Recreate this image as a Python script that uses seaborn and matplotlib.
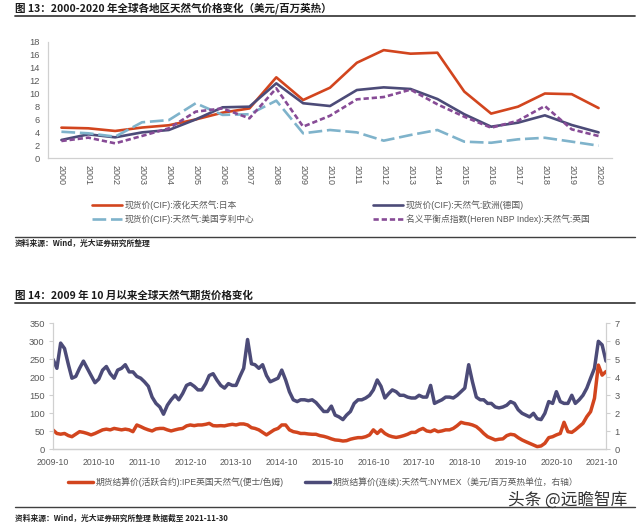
import pandas as pd
import matplotlib.pyplot as plt
import matplotlib.dates as mdates
from matplotlib.lines import Line2D
import seaborn as sns

# ---- 图13: 年度价格 (美元/百万英热) ----
years = list(range(2000, 2021))
japan_lng = [4.73, 4.63, 4.22, 4.75, 5.1, 6.0, 7.05, 7.7, 12.5, 9.0, 10.9,
             14.75, 16.7, 16.15, 16.3, 10.3, 6.9, 7.97, 10.0, 9.9, 7.76]
germany = [2.83, 3.7, 3.24, 4.0, 4.37, 6.0, 7.87, 7.97, 11.57, 8.5, 8.07,
           10.54, 10.95, 10.7, 9.15, 6.8, 4.88, 5.5, 6.63, 5.14, 4.0]
henry_hub = [4.1, 3.86, 3.34, 5.56, 5.9, 8.5, 6.7, 6.8, 8.9, 3.86, 4.37,
             4.0, 2.72, 3.6, 4.37, 2.57, 2.4, 2.93, 3.17, 2.57, 1.95]
uk_nbp = [2.67, 3.19, 2.31, 3.45, 4.63, 7.2, 7.7, 6.17, 10.8, 4.89, 6.57,
          9.1, 9.46, 10.6, 8.33, 6.42, 4.72, 5.8, 8.07, 4.47, 3.44]

top_labels = ['现货价(CIF):液化天然气:日本', '现货价(CIF):天然气:欧洲(德国)',
              '现货价(CIF):天然气:美国亨利中心', '名义平衡点指数(Heren NBP Index):天然气:英国']

# ---- 图14: 月度期货价格 2009-10 ~ 2021-11 ----
months = pd.date_range('2009-10-01', periods=146, freq='MS')
ipe = [53.7, 44, 42, 44, 38, 35, 42, 49, 47, 44,
       40, 44, 49, 54, 56, 54, 58, 56, 54, 56,
       54, 49, 67.6, 63, 58, 54, 51, 56.5, 58, 58,
       54, 51, 54, 56.5, 58, 65, 67.6, 65.7, 67.6, 67.6,
       69.4, 72, 65.7, 65, 65.7, 65, 67.6, 69.4, 67.6, 70.4,
       70.4, 67.6, 60, 58, 54, 47, 40, 47, 54, 58,
       67.6, 67.6, 54, 49, 47, 44, 44, 42.6, 41.7, 41.7,
       38, 36, 33, 29, 26, 25, 23, 24, 28, 30.5,
       32.4, 32.4, 35, 40, 54, 44, 54, 44, 38, 35,
       33, 35, 38, 41.7, 47, 47, 53.7, 58, 51, 49,
       54, 49, 51, 54, 54, 58, 65.7, 75, 72, 70.4,
       67.6, 63, 54, 44, 35, 30.5, 26, 28, 29, 38,
       41.7, 40, 32.4, 26, 21, 16.7, 12, 7.4, 9.3, 16.7,
       32.4, 35, 40, 44, 75, 49, 47, 54, 63, 72,
       90.7, 104.6, 141.7, 234, 206, 216]
nymex = [5.0, 4.5, 5.9, 5.6, 4.7, 3.95, 4.05, 4.5, 4.9, 4.5,
         4.1, 3.7, 3.9, 4.4, 4.6, 4.2, 3.95, 4.4, 4.5, 4.7,
         4.3, 4.3, 4.05, 3.95, 3.75, 3.5, 2.9, 2.55, 2.35, 1.95,
         2.45, 2.75, 3.0, 2.75, 3.1, 3.55, 3.65, 3.5, 3.3, 3.3,
         3.65, 4.1, 4.2, 3.85, 3.55, 3.4, 3.65, 3.55, 3.55, 4.05,
         4.5, 6.1, 4.75, 4.7, 4.5, 4.7, 4.1, 3.75, 3.85, 3.95,
         4.4, 3.85, 3.2, 2.75, 2.65, 2.75, 2.75, 2.7, 2.75, 2.6,
         2.35, 2.1, 2.1, 2.4, 1.9, 1.8, 1.65, 1.9, 2.1, 2.55,
         2.75, 2.75, 2.85, 3.0, 3.3, 3.85, 3.5, 2.85, 3.1, 3.3,
         3.2, 3.0, 3.0, 2.9, 2.85, 2.85, 3.0, 2.9, 2.9, 3.55,
         2.55, 2.65, 2.75, 2.9, 2.9, 2.85, 3.0, 3.2, 3.4, 4.7,
         3.75, 2.9, 2.75, 2.75, 2.55, 2.55, 2.35, 2.3, 2.35, 2.45,
         2.65, 2.55, 2.2, 2.0, 1.9, 1.8, 2.0, 1.7, 1.65, 2.0,
         2.65, 2.55, 3.2, 2.65, 2.55, 2.55, 3.0, 2.55, 2.75, 3.0,
         3.4, 3.95, 4.5, 6.0, 5.8, 4.9]

bottom_labels = ['期货结算价(活跃合约):IPE英国天然气(便士/色姆)',
                 '期货结算价(连续):天然气:NYMEX（美元/百万英热单位，右轴）']

sns.set_style('white')
plt.rcParams['font.family'] = ['Liberation Sans', 'Noto Sans CJK SC', 'DejaVu Sans']

RED = '#D2451E'
NAVY = '#4C4B78'
BLUE = '#7FB3CB'
PURPLE = '#874B96'
TICK = '#595959'
AXIS = '#D0D0D0'
CJK = ['Noto Sans CJK SC', 'DejaVu Sans']

W, H = 640, 523
fig = plt.figure(figsize=(6.4, 5.23), dpi=100)


def fx(px):
    return px / W


def fy(py):
    return 1 - py / H


# titles, rules, sources
fig.text(fx(15), fy(8), '图 13：2000-2020 年全球各地区天然气价格变化（美元/百万英热）',
         fontsize=7.6, fontweight='bold', family=CJK, va='center', color='#1a1a1a')
fig.text(fx(15), fy(295), '图 14：2009 年 10 月以来全球天然气期货价格变化',
         fontsize=7.6, fontweight='bold', family=CJK, va='center', color='#1a1a1a')
for y, lw in [(16, 1.3), (303.3, 1.3), (236.7, 1.0), (507, 1.0)]:
    fig.add_artist(Line2D([fx(15), fx(635)], [fy(y), fy(y)], color='#404040', lw=lw))
fig.text(fx(15), fy(243), '资料来源：Wind，光大证券研究所整理',
         fontsize=5.6, fontweight='bold', family=CJK, va='center', color='#222222')
fig.text(fx(15), fy(518), '资料来源：Wind，光大证券研究所整理 数据截至 2021-11-30',
         fontsize=5.6, fontweight='bold', family=CJK, va='center', color='#222222')
fig.text(fx(508), fy(500), '头条 @远瞻智库', fontsize=12, family=CJK,
         va='center', color='#333333')

# ---- top chart ----
ax = fig.add_axes([fx(48), fy(158.3), fx(612 - 48), (158.3 - 41.7) / H])
sns.lineplot(x=years, y=japan_lng, ax=ax, color=RED, lw=1.9, label=top_labels[0])
sns.lineplot(x=years, y=germany, ax=ax, color=NAVY, lw=1.9, label=top_labels[1])
sns.lineplot(x=years, y=henry_hub, ax=ax, color=BLUE, lw=1.9,
             linestyle=(0, (5.2, 1.8)), label=top_labels[2])
sns.lineplot(x=years, y=uk_nbp, ax=ax, color=PURPLE, lw=1.9,
             linestyle=(0, (2.0, 1.1)), label=top_labels[3])
h = ax.get_lines()
if ax.get_legend():
    ax.get_legend().remove()
ax.set_xlim(1999.5, 2020.5)
ax.set_ylim(0, 18)
ax.set_yticks(range(0, 19, 2))
ax.set_xticks(years)
ax.set_xticklabels([str(y) for y in years], rotation=270)
ax.set_xticks([y - 0.5 for y in years] + [2020.5], minor=True)
ax.tick_params(axis='x', which='major', length=0, pad=5, labelsize=6.5, labelcolor=TICK)
ax.tick_params(axis='x', which='minor', length=3, direction='in', color=AXIS, width=0.8)
ax.tick_params(axis='y', length=0, pad=6, labelsize=6.7, labelcolor=TICK)
for s in ['top', 'right']:
    ax.spines[s].set_visible(False)
for s in ['left', 'bottom']:
    ax.spines[s].set_color(AXIS)
    ax.spines[s].set_linewidth(0.9)

leg_kw = dict(frameon=False, fontsize=6.3, handlelength=3.4, handletextpad=0.35,
              labelspacing=0.55, borderpad=0, borderaxespad=0, labelcolor=TICK)
fig.legend([h[0], h[2]], [top_labels[0], top_labels[2]], loc='upper left',
           bbox_to_anchor=(fx(92), fy(200)), **leg_kw)
fig.legend([h[1], h[3]], [top_labels[1], top_labels[3]], loc='upper left',
           bbox_to_anchor=(fx(373), fy(200)), **leg_kw)

# ---- bottom chart ----
bx = fig.add_axes([fx(53), fy(449.3), fx(606 - 53), 126 / H])
sns.lineplot(x=months, y=ipe, ax=bx, color=RED, lw=2.5, label=bottom_labels[0])
bx2 = bx.twinx()
sns.lineplot(x=months, y=nymex, ax=bx2, color=NAVY, lw=2.5, label=bottom_labels[1])
for a in (bx, bx2):
    if a.get_legend():
        a.get_legend().remove()
    a.set_xlabel('')
    a.set_ylabel('')
bx.set_zorder(bx2.get_zorder() + 1)
bx.patch.set_visible(False)
bx.set_xlim(months[0], months[-1])
bx.set_ylim(0, 350)
bx.set_yticks(range(0, 351, 50))
bx2.set_ylim(0, 7)
bx2.set_yticks(range(0, 8))
bx.xaxis.set_major_locator(mdates.MonthLocator(bymonth=10))
bx.xaxis.set_major_formatter(mdates.DateFormatter('%Y-%m'))
bx.tick_params(axis='x', length=3, color=AXIS, pad=3, labelsize=6.3, labelcolor=TICK)
bx.tick_params(axis='y', length=3, color=AXIS, pad=3, labelsize=6.7, labelcolor=TICK)
bx2.tick_params(axis='y', length=3, color=AXIS, pad=3, labelsize=6.7, labelcolor=TICK)
for a in (bx, bx2):
    a.spines['top'].set_visible(False)
    for s in ['left', 'right', 'bottom']:
        a.spines[s].set_color(AXIS)
        a.spines[s].set_linewidth(0.9)
bx.spines['right'].set_visible(False)
bx2.spines['left'].set_visible(False)

fig.legend([bx.get_lines()[0], bx2.get_lines()[0]], bottom_labels, loc='center left',
           bbox_to_anchor=(fx(68), fy(482)), ncol=2, frameon=False, fontsize=6.3,
           handlelength=2.9, handletextpad=0.25, columnspacing=2.4, borderpad=0,
           borderaxespad=0, labelcolor=TICK)

fig.savefig('out.png', dpi=100)
